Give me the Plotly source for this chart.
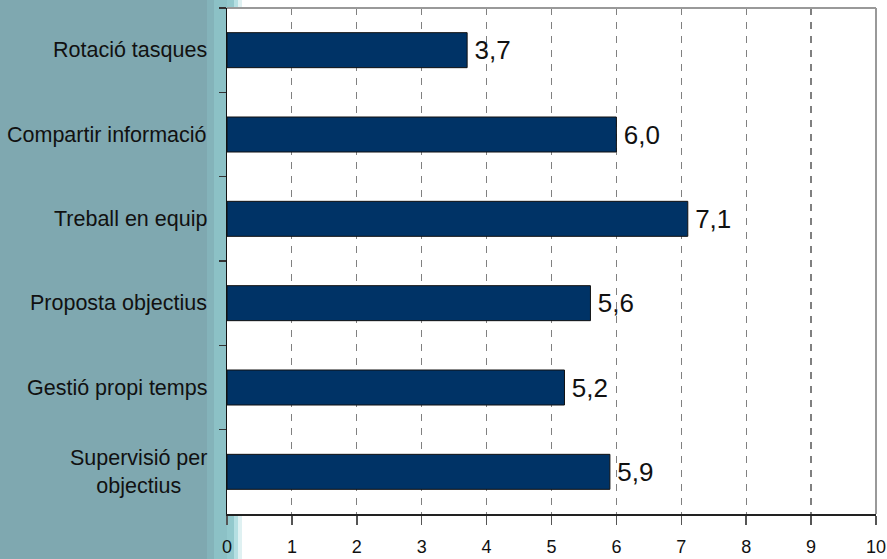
import plotly.graph_objects as go

categories = ["Rotació tasques", "Compartir informació", "Treball en equip",
              "Proposta objectius", "Gestió propi temps", "Supervisió per<br>objectius"]
values = [3.7, 6.0, 7.1, 5.6, 5.2, 5.9]
x_ticks = list(range(0, 11))

W, H = 887, 559
X0, X1, Y0, Y1 = 227, 876, 8, 514
FONT = "Arial, Liberation Sans, sans-serif"

def px(x):
    return (x - X0) / (X1 - X0)

def py(y):
    return (Y1 - y) / (Y1 - Y0)

fig = go.Figure()
fig.add_trace(go.Bar(
    y=categories, x=values, orientation="h",
    marker=dict(color="#003366", line=dict(color="#111111", width=1)),
    width=0.415,
    texttemplate="\u2006%{x:.1f}", textposition="outside",
    textfont=dict(family=FONT, size=26, color="#111111"),
    constraintext="none", cliponaxis=False, hoverinfo="skip",
))

shapes = []
strips = [(-5, 207, "#7fa8b0"), (207, 214, "#84b3ba"), (214, 227, "#8cc1c6")]
for a, b, c in strips:
    shapes.append(dict(type="rect", xref="paper", yref="paper", x0=px(a), x1=px(b),
                       y0=py(H + 5), y1=py(-5), fillcolor=c, line=dict(width=0), layer="below"))
for a, b, c in [(227, 234, "#93c9cd"), (234, 238, "#b5dfe2"), (238, 242, "#dff1f2")]:
    shapes.append(dict(type="rect", xref="paper", yref="paper", x0=px(a), x1=px(b),
                       y0=py(H + 5), y1=py(Y1), fillcolor=c, line=dict(width=0), layer="below"))
    shapes.append(dict(type="rect", xref="paper", yref="paper", x0=px(a), x1=px(b),
                       y0=py(Y0), y1=py(-5), fillcolor=c, line=dict(width=0), layer="below"))
shapes.append(dict(type="line", xref="paper", yref="paper", x0=0, x1=1, y0=1, y1=1,
                   line=dict(color="#999999", width=2)))
shapes.append(dict(type="line", xref="paper", yref="paper", x0=1, x1=1, y0=0, y1=1,
                   line=dict(color="#999999", width=2)))

annotations = []
for c in categories:
    annotations.append(dict(xref="paper", yref="y", x=px(209), y=c, text=c,
                            xanchor="right", yanchor="middle", align="center", showarrow=False,
                            font=dict(family=FONT, size=21.5, color="#111111")))

fig.update_layout(
    width=W, height=H,
    margin=dict(l=X0, r=W - X1, t=Y0, b=H - Y1, pad=0, autoexpand=False),
    paper_bgcolor="white", plot_bgcolor="white",
    separators=", ",
    showlegend=False, hovermode=False,
    shapes=shapes, annotations=annotations,
)
fig.update_xaxes(
    range=[0, 10], tickmode="array", tickvals=x_ticks, ticktext=[str(t) for t in x_ticks],
    showgrid=True, gridcolor="#808080", gridwidth=1.2, griddash="7px,7px",
    showline=True, linecolor="#222222", linewidth=1.5,
    ticks="outside", ticklen=9, tickcolor="#555555", tickwidth=1.5,
    tickfont=dict(family=FONT, size=18, color="#111111"), ticklabelstandoff=7,
    zeroline=False, fixedrange=True, automargin=False,
)
fig.update_yaxes(
    categoryorder="array", categoryarray=categories, autorange="reversed",
    showticklabels=False, showgrid=False,
    showline=True, linecolor="#111111", linewidth=1.5,
    ticks="outside", tickson="boundaries", ticklen=7, tickcolor="#333333", tickwidth=1.2,
    zeroline=False, fixedrange=True, automargin=False,
)

fig.write_html("out.html", config={"displayModeBar": False, "staticPlot": True},
               post_script="document.body.style.margin='0';document.body.style.padding='0';")
